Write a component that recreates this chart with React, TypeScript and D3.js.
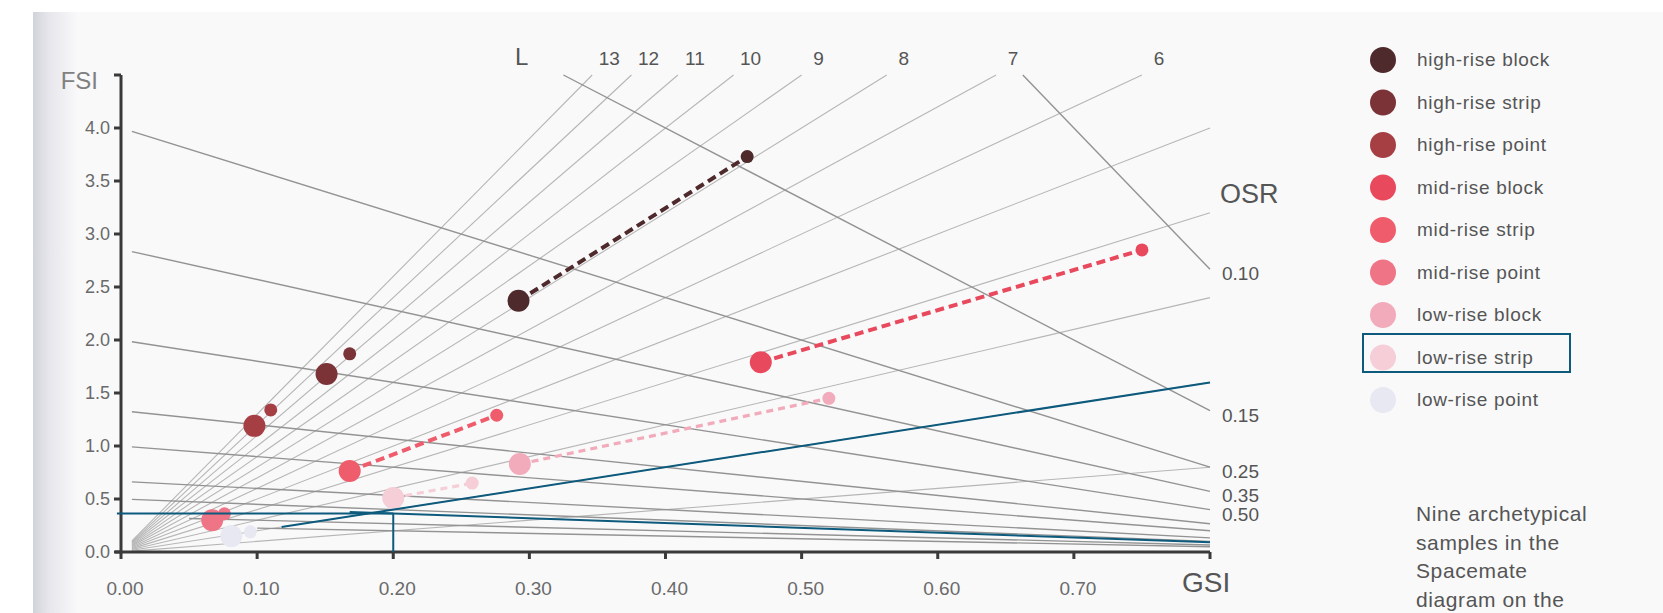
import * as d3 from 'd3';

// Spacemate diagram: GSI (x), FSI (y), L rays (FSI = L * GSI), OSR lines (FSI = (1 - GSI) / OSR)
const gsiTicks = [0, 0.1, 0.2, 0.3, 0.4, 0.5, 0.6, 0.7];
const fsiTicks = [0, 0.5, 1, 1.5, 2, 2.5, 3, 3.5, 4];
const rayValues = [1, 2, 3, 4, 5, 6, 7, 8, 9, 10, 11, 12, 13];
const rayLabels = [13, 12, 11, 10, 9, 8, 7, 6];
const osrValues = [0.075, 0.15, 0.25, 0.35, 0.5, 0.75, 1, 1.5, 2, 3, 4];
const osrStart = [0.008, 0.008, 0.008, 0.008, 0.008, 0.008, 0.008, 0.008, 0.008, 0.05, 0.1];
const osrLabelled = [0.075, 0.15, 0.25, 0.35, 0.5];
const osrLabelText = ['0.10', '0.15', '0.25', '0.35', '0.50'];

const types = [
  'high-rise block',
  'high-rise strip',
  'high-rise point',
  'mid-rise block',
  'mid-rise strip',
  'mid-rise point',
  'low-rise block',
  'low-rise strip',
  'low-rise point',
];
const typeColors = ['#4e2a2d', '#7b3337', '#a63f44', '#e8495c', '#ef5c6b', '#ee7486', '#f2abbb', '#f5ced7', '#e8e8f2'];
const mainGsi = [0.292, 0.151, 0.098, 0.47, 0.168, 0.067, 0.293, 0.2, 0.081];
const mainFsi = [2.37, 1.68, 1.19, 1.79, 0.765, 0.3, 0.83, 0.51, 0.15];
const altGsi = [0.46, 0.168, 0.11, 0.75, 0.276, 0.076, 0.52, 0.258, 0.095];
const altFsi = [3.73, 1.87, 1.34, 2.85, 1.29, 0.36, 1.45, 0.65, 0.19];
const dashed = [true, false, false, true, true, false, true, true, false];

// hand-drawn blue construction lines
const markGsi = 0.2;
const markFsi = 0.364;
const markOsr = 2.2;
const markOsrFrom = 0.168;
const markL = 2;
const markLFrom = 0.118;

const captionLines = ['Nine archetypical', 'samples in the', 'Spacemate', 'diagram on the'];

const W = 1663;
const H = 613;
const GSI_MAX = 0.8;
const FSI_MAX = 4.5;
const BLUE = '#0d5a7d';
const SANS = "'Liberation Sans', Arial, sans-serif";
const NARROW = "'Liberation Sans Narrow', 'Liberation Sans', Arial, sans-serif";

export default function App() {
  const x = d3.scaleLinear().domain([0, GSI_MAX]).range([121, 1210]);
  const y = d3.scaleLinear().domain([0, FSI_MAX]).range([552, 75]);

  const line = d3
    .line<[number, number]>()
    .x((d) => x(d[0]))
    .y((d) => y(d[1]));

  const rayEnd = (l: number) => Math.min(GSI_MAX, FSI_MAX / l);
  const osrFsi = (o: number, g: number) => (1 - g) / o;
  const osrFrom = (o: number, i: number) => Math.max(osrStart[i], 1 - FSI_MAX * o);

  return (
    <div style={{ position: 'absolute', left: 0, top: 0 }}>
      <svg width={W} height={H} style={{ display: 'block' }}>
        <defs>
          <linearGradient id="edge" x1="0" x2="1" y1="0" y2="0">
            <stop offset="0" stopColor="#d2d2da" />
            <stop offset="0.35" stopColor="#e6e6ec" />
            <stop offset="1" stopColor="#f9f9fa" />
          </linearGradient>
        </defs>
        <rect x={0} y={0} width={W} height={H} fill="#ffffff" />
        <rect x={33} y={12} width={W - 33} height={H - 12} fill="#f9f9fa" />
        <rect x={33} y={12} width={45} height={H - 12} fill="url(#edge)" />

        {/* L rays */}
        <g stroke="#b6b6b6" strokeWidth={1.1} fill="none">
          {rayValues.map((l) => (
            <path key={`ray-${l}`} d={line([[0.008, 0.008 * l], [rayEnd(l), rayEnd(l) * l]]) ?? ''} />
          ))}
        </g>

        {/* OSR lines */}
        <g stroke="#939393" strokeWidth={1.4} fill="none">
          {osrValues.map((o, i) => {
            const g0 = osrFrom(o, i);
            return (
              <path key={`osr-${o}`} d={line([[g0, osrFsi(o, g0)], [GSI_MAX, osrFsi(o, GSI_MAX)]]) ?? ''} />
            );
          })}
        </g>

        {/* axes */}
        <g stroke="#3a3a3a" strokeWidth={3}>
          <line x1={x(0)} x2={x(0)} y1={y(0) + 1.5} y2={y(FSI_MAX)} />
          <line x1={x(0) - 6} x2={x(GSI_MAX)} y1={y(0)} y2={y(0)} />
          {[...fsiTicks, FSI_MAX].map((t) => (
            <line key={`yt-${t}`} x1={x(0) - 7} x2={x(0)} y1={y(t)} y2={y(t)} />
          ))}
          {[...gsiTicks, GSI_MAX].map((t) => (
            <line key={`xt-${t}`} x1={x(t)} x2={x(t)} y1={y(0)} y2={y(0) + 7} />
          ))}
        </g>
        <g fill="#6a6a6a" fontFamily={NARROW} fontSize={18}>
          {fsiTicks.map((t) => (
            <text key={`yl-${t}`} x={x(0) - 11} y={y(t) + 6} textAnchor="end">
              {t.toFixed(1)}
            </text>
          ))}
        </g>
        <g fill="#6a6a6a" fontFamily={NARROW} fontSize={19}>
          {gsiTicks.map((t) => (
            <text key={`xl-${t}`} x={x(t) + 4} y={595} textAnchor="middle">
              {t.toFixed(2)}
            </text>
          ))}
        </g>
        <text x={98} y={89} textAnchor="end" fill="#808080" fontFamily={SANS} fontSize={24}>
          FSI
        </text>
        <text x={1182} y={592} fill="#555" fontFamily={SANS} fontSize={28}>
          GSI
        </text>

        {/* L labels */}
        <text x={515} y={65} fill="#555" fontFamily={SANS} fontSize={24}>
          L
        </text>
        <g fill="#555" fontFamily={NARROW} fontSize={19}>
          {rayLabels.map((l) => (
            <text key={`rl-${l}`} x={x(rayEnd(l)) + 17} y={65} textAnchor="middle">
              {l}
            </text>
          ))}
        </g>

        {/* OSR labels */}
        <text x={1220} y={203} fill="#555" fontFamily={SANS} fontSize={27}>
          OSR
        </text>
        <g fill="#555" fontFamily={SANS} fontSize={19}>
          {osrLabelled.map((o, i) => (
            <text key={`ol-${o}`} x={1222} y={y(osrFsi(o, GSI_MAX)) + 11}>
              {osrLabelText[i]}
            </text>
          ))}
        </g>

        {/* samples */}
        <g fill="none" strokeLinecap="butt">
          {types.map((t, i) =>
            dashed[i] ? (
              <path
                key={`dash-${t}`}
                d={line([[mainGsi[i], mainFsi[i]], [altGsi[i], altFsi[i]]]) ?? ''}
                stroke={typeColors[i]}
                strokeWidth={i >= 6 ? 3.2 : 4}
                strokeDasharray={i >= 6 ? '7 5' : '9 5'}
              />
            ) : null
          )}
        </g>
        <g>
          {types.map((t, i) => (
            <g key={`pt-${t}`} fill={typeColors[i]}>
              <circle cx={x(altGsi[i])} cy={y(altFsi[i])} r={6.5} />
              <circle cx={x(mainGsi[i])} cy={y(mainFsi[i])} r={11} />
            </g>
          ))}
        </g>

        {/* blue construction lines */}
        <g stroke={BLUE} strokeWidth={2} fill="none">
          <path d={line([[-0.003, markFsi], [markGsi, markFsi]]) ?? ''} />
          <path d={line([[markGsi, markFsi], [markGsi, 0]]) ?? ''} />
          <path d={line([[markOsrFrom, osrFsi(markOsr, markOsrFrom)], [GSI_MAX, osrFsi(markOsr, GSI_MAX)]]) ?? ''} />
          <path d={line([[markLFrom, markLFrom * markL], [GSI_MAX, GSI_MAX * markL]]) ?? ''} />
        </g>

        {/* legend */}
        <g fontFamily={SANS} fontSize={19} fill="#555" letterSpacing={0.7}>
          {types.map((t, i) => (
            <g key={`lg-${t}`} transform={`translate(0, ${60 + i * 42.5})`}>
              <circle cx={1383} cy={0} r={13} fill={typeColors[i]} />
              <text x={1417} y={6}>
                {t}
              </text>
            </g>
          ))}
        </g>
        <rect x={1363} y={334} width={207} height={38} fill="none" stroke={BLUE} strokeWidth={2} />

        {/* caption */}
        <g fontFamily={SANS} fontSize={21} fill="#555" letterSpacing={0.6}>
          {captionLines.map((c, i) => (
            <text key={`cap-${i}`} x={1416} y={521 + i * 28.5}>
              {c}
            </text>
          ))}
        </g>
      </svg>
    </div>
  );
}
